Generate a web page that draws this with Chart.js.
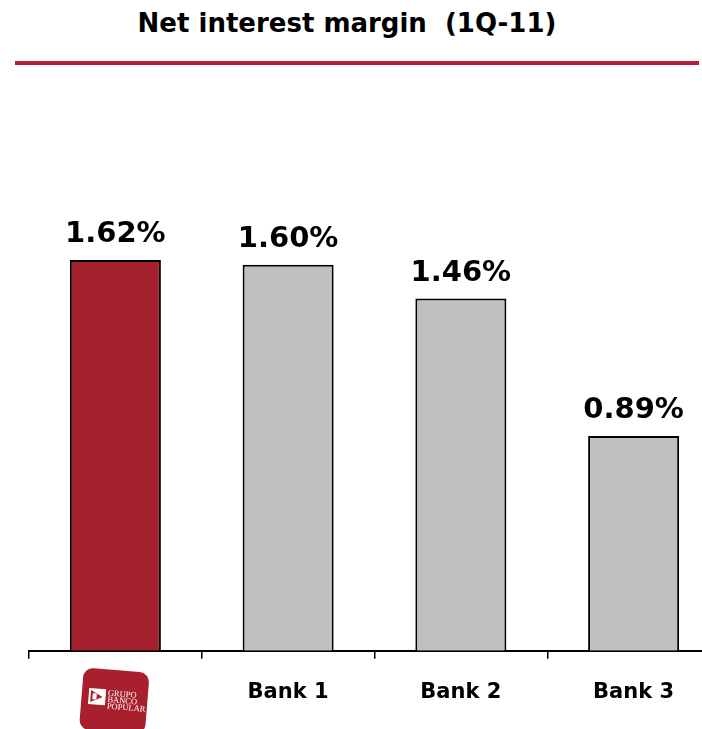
<!DOCTYPE html>
<html>
<head>
<meta charset="utf-8">
<title>Net interest margin (1Q-11)</title>
<script src="https://cdn.jsdelivr.net/npm/chart.js@4/dist/chart.umd.min.js"></script>
<style>
  html, body { margin: 0; padding: 0; background: #fff; overflow: hidden; }
  body { width: 702px; height: 729px; position: relative; }
  #title {
    position: absolute; left: -4px; top: 8px; width: 702px;
    text-align: center; white-space: pre;
    font: bold 26px/30px "DejaVu Sans", sans-serif; color: #000;
  }
  #rule { position: absolute; left: 15px; top: 61px; width: 684px; height: 4px; background: #b51d3d; }
  #wrap { position: absolute; left: 0; top: 0; width: 760px; height: 729px; }
</style>
</head>
<body>
<div id="title">Net interest margin  (1Q-11)</div>
<div id="rule"></div>
<div id="wrap"><canvas id="nim"></canvas></div>
<script>
'use strict';

const categories = ['Grupo Banco Popular', 'Bank 1', 'Bank 2', 'Bank 3'];
const margins = [1.62, 1.60, 1.46, 0.89];
const barColors = ['#a3222e', '#c0c0c0', '#c0c0c0', '#c0c0c0'];
const logoLines = ['GRUPO', 'BANCO', 'POPULAR'];

const FONT = '"DejaVu Sans", sans-serif';

// value labels sitting above each bar
const valueLabels = {
  id: 'valueLabels',
  afterDatasetsDraw(chart) {
    const { ctx } = chart;
    const meta = chart.getDatasetMeta(0);
    ctx.save();
    ctx.font = `bold 29px ${FONT}`;
    ctx.fillStyle = '#000';
    ctx.textAlign = 'center';
    ctx.textBaseline = 'alphabetic';
    meta.data.forEach((bar, i) => {
      ctx.fillText(`${margins[i].toFixed(2)}%`, bar.x, bar.y - 18);
    });
    ctx.restore();
  }
};

// bank logo in place of the first category label
const bankLogo = {
  id: 'bankLogo',
  afterDraw(chart) {
    const { ctx } = chart;
    const x = chart.scales.x.getPixelForValue(0) - 1;
    const y = 700;
    ctx.save();
    ctx.translate(x, y);
    ctx.rotate(0.08);
    ctx.fillStyle = '#a8202d';
    ctx.beginPath();
    ctx.roundRect(-33, -30, 66, 62, 10);
    ctx.fill();

    // pennant mark
    ctx.fillStyle = '#fff';
    ctx.fillRect(-26, -10, 17, 16);
    ctx.fillStyle = '#a8202d';
    ctx.beginPath();
    ctx.moveTo(-24, -8);
    ctx.lineTo(-12, -2);
    ctx.lineTo(-24, 4);
    ctx.closePath();
    ctx.fill();
    ctx.fillStyle = '#fff';
    ctx.fillRect(-22, -5, 4, 6);

    ctx.font = '8.5px "Liberation Serif", serif';
    ctx.textAlign = 'left';
    ctx.textBaseline = 'alphabetic';
    logoLines.forEach((t, i) => ctx.fillText(t, -7, -4 + i * 6.6));
    ctx.restore();
  }
};

new Chart(document.getElementById('nim').getContext('2d'), {
  type: 'bar',
  data: {
    labels: categories,
    datasets: [{
      data: margins,
      backgroundColor: barColors,
      borderColor: '#000',
      borderWidth: 2,
      barPercentage: 0.527,
      categoryPercentage: 1
    }]
  },
  options: {
    responsive: true,
    maintainAspectRatio: false,
    animation: false,
    layout: { padding: { left: 29, right: 40, top: 120, bottom: 3 } },
    plugins: { legend: { display: false }, tooltip: { enabled: false } },
    scales: {
      y: { display: false, min: 0, max: 2.2 },
      x: {
        offset: true,
        border: { display: true, color: '#000', width: 2 },
        grid: {
          offset: true,
          drawOnChartArea: false,
          drawTicks: true,
          tickLength: 8,
          color: '#000',
          lineWidth: 1.5
        },
        ticks: {
          color: '#000',
          padding: 21,
          font: { family: FONT, size: 21, weight: 'bold' },
          callback: (v, i) => (i === 0 ? '' : categories[i])
        }
      }
    }
  },
  plugins: [valueLabels, bankLogo]
});
</script>
</body>
</html>
